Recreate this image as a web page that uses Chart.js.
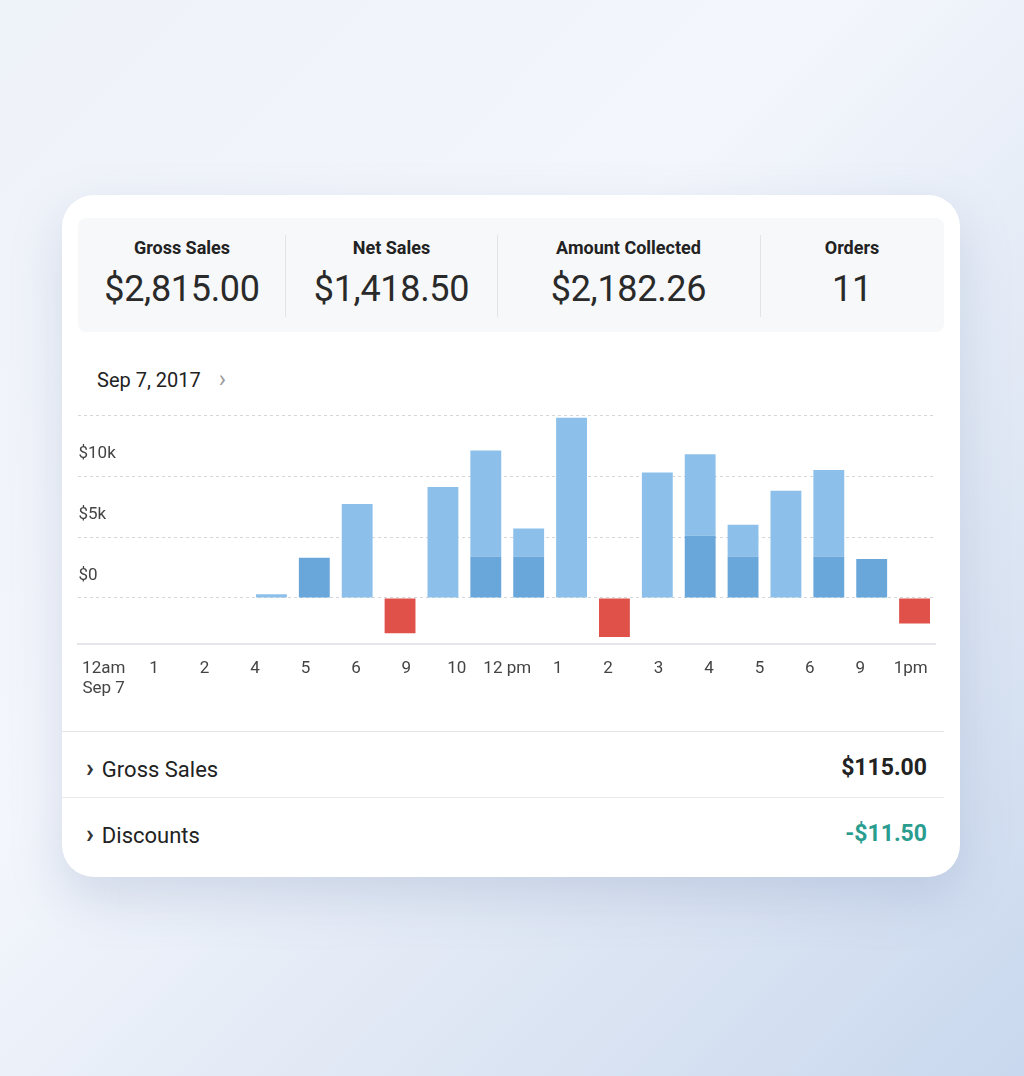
<!DOCTYPE html>
<html><head><meta charset="utf-8">
<script src="https://cdn.jsdelivr.net/npm/chart.js@4"></script>
<style>
body{margin:0;width:1024px;height:1076px;background:linear-gradient(135deg,#eef2f9 0%,#f3f6fc 40%,#dfe7f4 70%,#c9d8ee 100%);font-family:Roboto,"Noto Sans",sans-serif;position:relative;overflow:hidden;color:#222}
.card{position:absolute;left:62px;top:195px;width:898px;height:682px;background:#fff;border-radius:32px;box-shadow:0 20px 50px rgba(120,140,180,.25)}
.stats{position:absolute;left:16px;top:23px;width:866px;height:114px;background:#f7f8f9;border-radius:8px;display:flex}
.stat{text-align:center;position:relative}
.stat .t{font-weight:700;font-size:18px;margin-top:19px;color:#222}
.stat .v{font-size:36px;margin-top:10px;color:#2a2a2a;letter-spacing:-0.3px}
.div{position:absolute;top:17px;width:1px;height:82px;background:#e2e4e8}
.date{position:absolute;left:35px;top:173px;font-size:20px;color:#222}
.date span{color:#999;margin-left:18px;font-size:24px;line-height:20px}
.row{position:absolute;left:0;width:882px;height:65px;border-top:1px solid #e3e5e8;font-size:22px}
.row .l{position:absolute;left:24px;top:21px}
.row .l b{font-size:26px;margin-right:8px;color:#333}
.row .r{position:absolute;top:22px;font-weight:700;font-size:23px}
#wrap{position:absolute;left:14px;top:210px;width:860px;height:300px}
</style></head><body>
<div class="card">
 <div class="stats">
  <div class="stat" style="width:208px"><div class="t">Gross Sales</div><div class="v">$2,815.00</div></div>
  <div class="stat" style="width:211px"><div class="t">Net Sales</div><div class="v">$1,418.50</div></div>
  <div class="stat" style="width:263px"><div class="t">Amount Collected</div><div class="v">$2,182.26</div></div>
  <div class="stat" style="width:184px"><div class="t">Orders</div><div class="v">11</div></div>
  <div class="div" style="left:207px"></div><div class="div" style="left:419px"></div><div class="div" style="left:682px"></div>
 </div>
 <div class="date">Sep 7, 2017<span>&#x203A;</span></div>
 <div id="wrap"><canvas id="c"></canvas></div>
 <div class="row" style="top:536px"><div class="l"><b>&#x203A;</b>Gross Sales</div><div class="r" style="right:17px">$115.00</div></div>
 <div class="row" style="top:602px;border-top-color:#e8e9ec"><div class="l"><b>&#x203A;</b>Discounts</div><div class="r" style="right:17px;color:#2a9d8f">-$11.50</div></div>
</div>
<script>
const slots = ['s0','s1','s2','s3','b1','b2','b3','b4','b5','b6','b7','b8','b9','b10','b11','b12','b13','b14','b15','b16'];
const darkPart  = [null,null,null,null,0,3.3,0,0,0,3.4,3.4,0,0,0,5.1,3.4,0,3.4,3.2,0];
const lightPart = [null,null,null,null,0.3,0,7.7,0,9.1,8.7,2.3,14.8,0,10.3,6.7,2.6,8.8,7.1,0,0];
const refunds   = [null,null,null,null,0,0,0,-2.9,0,0,0,0,-3.2,0,0,0,0,0,0,-2.1];
const hourLabels = [['12am','Sep 7'],'1','2','4','5','6','9','10','12 pm','1','2','3','4','5','6','9','1pm'];
const yTicks = {0:'$0',5:'$5k',10:'$10k'};
new Chart(document.getElementById('c'),{
 type:'bar',
 data:{labels:slots,datasets:[
  {data:darkPart,backgroundColor:'#69a7da',stack:'s',barPercentage:0.72,categoryPercentage:1},
  {data:lightPart,backgroundColor:'#8cc0ea',stack:'s',barPercentage:0.72,categoryPercentage:1},
  {data:refunds,backgroundColor:'#e0514a',stack:'s',barPercentage:0.72,categoryPercentage:1}
 ]},
 options:{responsive:true,maintainAspectRatio:false,animation:false,
  layout:{padding:{top:8,left:0}},
  plugins:{legend:{display:false},tooltip:{enabled:false}},
  scales:{
   x:{stacked:true,display:false,afterFit:ax=>{}},
   x2:{type:'category',labels:hourLabels,position:'bottom',offset:true,
     grid:{display:false},border:{display:true,color:'#e4e6ea',width:2},
     ticks:{color:'#444',font:{family:'Roboto',size:17},maxRotation:0,autoSkip:false,padding:6}},
   y:{stacked:true,min:-3.8,max:15,
     afterBuildTicks:ax=>{ax.ticks=[0,5,10,15].map(v=>({value:v}));},
     ticks:{mirror:true,labelOffset:-22,padding:0,color:'#444',font:{family:'Roboto',size:17},callback:v=>yTicks[v]||''},
     grid:{color:'#d3d6db',drawTicks:false},border:{display:false,dash:[3,3]}}
  }}
});
</script>
</body></html>
